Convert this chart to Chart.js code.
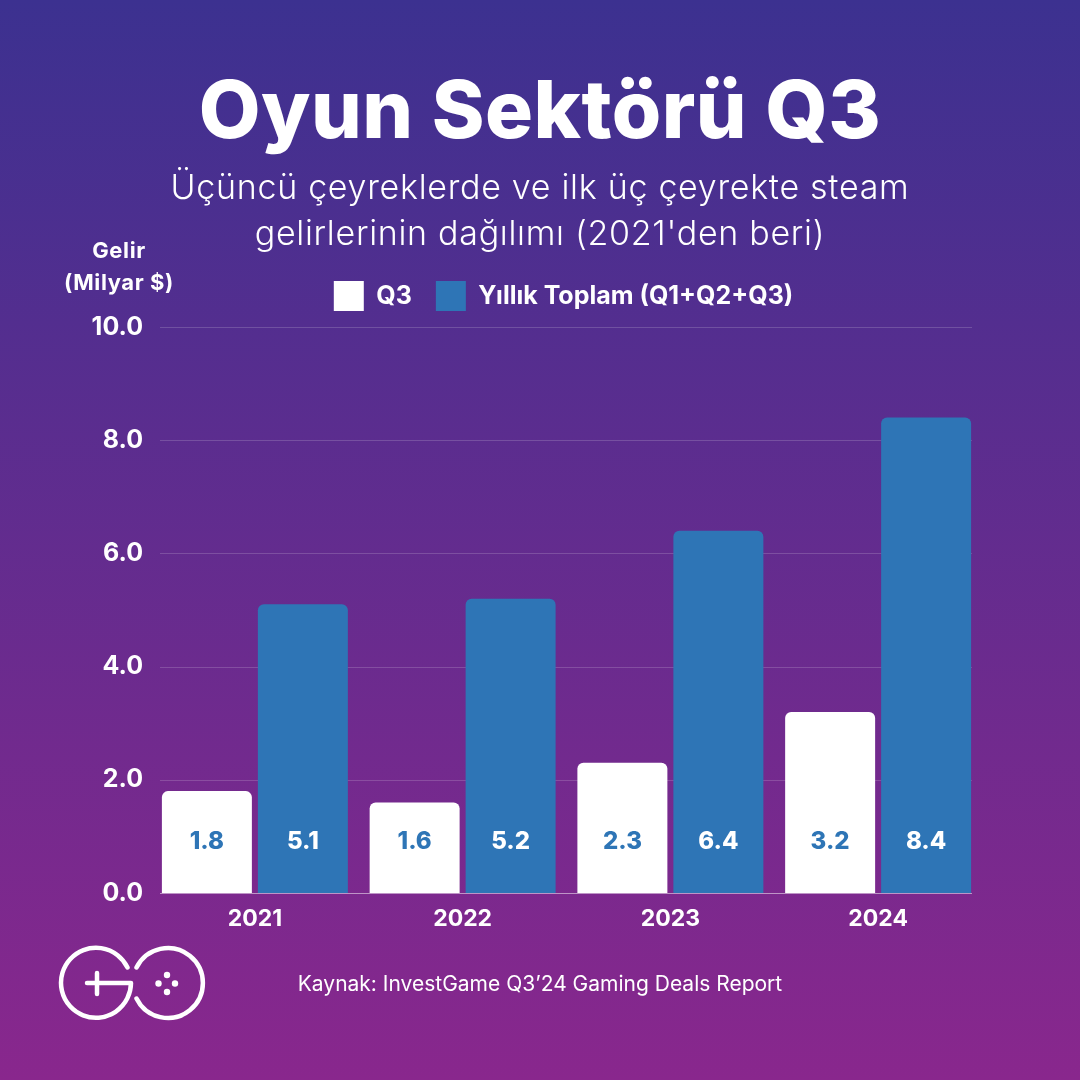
<!DOCTYPE html>
<html lang="tr">
<head>
<meta charset="utf-8">
<title>Oyun Sektörü Q3</title>
<script src="https://cdn.jsdelivr.net/npm/chart.js@4"></script>
<style>
  html, body { margin: 0; padding: 0; overflow: hidden; }
  body {
    width: 1080px; height: 1080px; position: relative; color: #fff;
    font-family: Inter, sans-serif;
    background: linear-gradient(180deg, #3c3190 0%, #89278d 100%);
  }
  canvas { position: absolute; left: 0; top: 0; }
  .txt { position: absolute; text-align: center; white-space: nowrap; left: 0; width: 1080px; }
  #title { top: 59px; font-size: 80px; line-height: 100px; font-weight: 800; letter-spacing: 0.5px; }
  .sub { font-size: 34px; line-height: 46px; font-weight: 300; letter-spacing: 0.7px; }
  #unit { left: 19px; width: 200px; top: 234px; font-size: 22px; line-height: 32px; font-weight: 700; letter-spacing: 0.6px; }
  #source { top: 971px; font-size: 21px; line-height: 26px; }
  svg { position: absolute; left: 0; top: 0; }
</style>
</head>
<body>
<canvas id="chart" width="1080" height="1080"></canvas>
<div class="txt" id="title">Oyun Sektörü Q3</div>
<div class="txt sub" style="top:164px">Üçüncü çeyreklerde ve ilk üç çeyrekte steam</div>
<div class="txt sub" style="top:210px">gelirlerinin dağılımı (2021'den beri)</div>
<div class="txt" id="unit">Gelir<br>(Milyar $)</div>
<div class="txt" id="source">Kaynak: InvestGame Q3’24 Gaming Deals Report</div>
<svg width="1080" height="1080" fill="none" stroke="#fff" stroke-width="4.5" stroke-linecap="round" stroke-linejoin="round">
  <path d="M127.5 967.5 A35 35 0 1 0 131 983 L87 983"/>
  <path d="M97 973 L97 994"/>
  <path d="M136.5 967.5 A35 35 0 1 1 136.5 998.5"/>
  <g fill="#fff" stroke="none">
    <circle cx="167" cy="975" r="3.2"/><circle cx="158.5" cy="983.5" r="3.2"/>
    <circle cx="175" cy="983.5" r="3.2"/><circle cx="167" cy="992" r="3.2"/>
  </g>
</svg>
<script>
const years = ['2021', '2022', '2023', '2024'];
const q3Values = [1.8, 1.6, 2.3, 3.2];
const totalValues = [5.1, 5.2, 6.4, 8.4];
const seriesNames = ['Q3', 'Yıllık Toplam (Q1+Q2+Q3)'];

const white = '#ffffff';
const blue = '#2e75b6';
const fontFamily = 'Inter, sans-serif';

// grid lines stop short of the category band, so they are drawn here from the y ticks
const gridLines = {
    id: 'gridLines',
    beforeDatasetsDraw(chart) {
        const { ctx, scales: { y } } = chart;
        ctx.save();
        y.ticks.forEach(t => {
            const py = Math.round(y.getPixelForValue(t.value)) + 0.5;
            ctx.strokeStyle = t.value === 0 ? 'rgba(255,255,255,0.5)' : 'rgba(255,255,255,0.17)';
            ctx.lineWidth = 1;
            ctx.beginPath();
            ctx.moveTo(160, py);
            ctx.lineTo(972, py);
            ctx.stroke();
        });
        ctx.restore();
    }
};

// value labels sit at the same height inside every bar
const barLabels = {
    id: 'barLabels',
    afterDatasetsDraw(chart) {
        const { ctx, scales: { y } } = chart;
        ctx.save();
        ctx.font = '800 24px ' + fontFamily;
        ctx.textAlign = 'center';
        ctx.textBaseline = 'middle';
        chart.data.datasets.forEach((ds, i) => {
            ctx.fillStyle = i === 0 ? blue : white;
            chart.getDatasetMeta(i).data.forEach((bar, j) => {
                ctx.fillText(ds.data[j].toFixed(1), bar.x, y.getPixelForValue(0) - 51);
            });
        });
        ctx.restore();
    }
};

// legend sits a little left of the plot centre and further above the plot than the layout gives
const legendNudge = {
    id: 'legendNudge',
    afterLayout(chart) {
        chart.legend.left -= 3;
        chart.legend.right -= 3;
        chart.legend.top -= 6;
        chart.legend.bottom -= 6;
    }
};

new Chart(document.getElementById('chart'), {
    type: 'bar',
    data: {
        labels: years,
        datasets: [
            { label: seriesNames[0], data: q3Values, backgroundColor: white },
            { label: seriesNames[1], data: totalValues, backgroundColor: blue }
        ]
    },
    options: {
        responsive: false,
        animation: false,
        devicePixelRatio: 1,
        layout: { padding: { left: 0, right: 98, top: 263, bottom: 147 } },
        datasets: {
            bar: {
                categoryPercentage: 0.924,
                barPercentage: 0.9375,
                borderRadius: { topLeft: 6, topRight: 6, bottomLeft: 0, bottomRight: 0 }
            }
        },
        plugins: {
            tooltip: { enabled: false },
            legend: {
                position: 'top',
                fullSize: false,
                labels: {
                    color: white,
                    boxWidth: 30,
                    boxHeight: 30,
                    padding: 24,
                    font: { family: fontFamily, size: 25, weight: '700' }
                }
            }
        },
        scales: {
            x: {
                grid: { display: false },
                border: { display: false },
                ticks: { color: white, padding: 4, font: { family: fontFamily, size: 23, weight: '700' } },
                afterFit(s) { s.height = 40; }
            },
            y: {
                min: 0,
                max: 10,
                grid: { display: false, drawTicks: false },
                border: { display: false },
                ticks: {
                    stepSize: 2,
                    padding: 8,
                    color: white,
                    font: { family: fontFamily, size: 25, weight: '700' },
                    callback: v => v.toFixed(1)
                },
                afterFit(s) { s.width = 151; }
            }
        }
    },
    plugins: [gridLines, barLabels, legendNudge]
});
</script>
</body>
</html>
